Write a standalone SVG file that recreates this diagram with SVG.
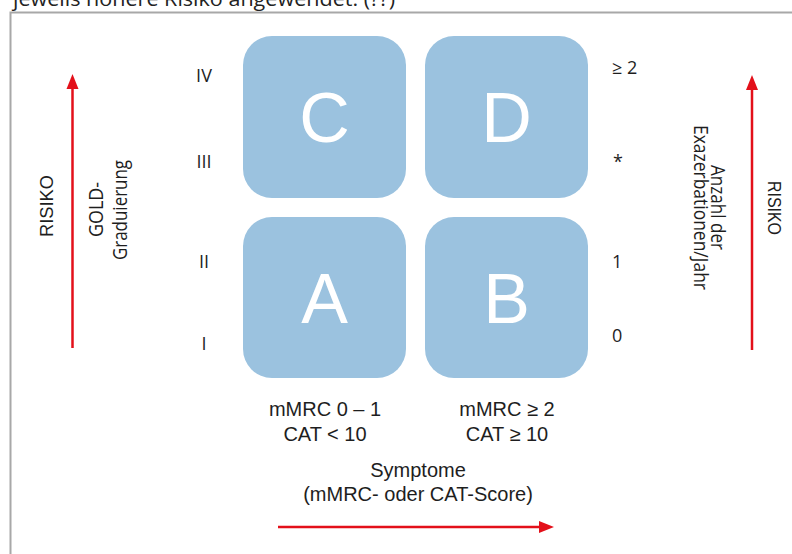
<svg xmlns="http://www.w3.org/2000/svg" width="792" height="554" viewBox="0 0 792 554">
<defs>
<style>
.box{fill:#9bc2df}
.big{font-family:"Liberation Sans",Arial,sans-serif;font-size:70px;fill:#fff;text-anchor:middle}
.lbl{font-family:"Open Sans","Liberation Sans",sans-serif;font-size:18px;fill:#1e1e1e}
.ar{font-family:"Liberation Sans",Arial,sans-serif;font-size:20px;fill:#1e1e1e;text-anchor:middle}
.rot{font-family:"Open Sans","Liberation Sans",sans-serif;font-size:20px;fill:#1e1e1e;text-anchor:middle}
.risk{font-family:"Liberation Sans",Arial,sans-serif;font-size:18px;fill:#1e1e1e;text-anchor:middle}
.red{stroke:#e3101a;stroke-width:2.5;fill:none}
.head{fill:#e3101a}
</style>
</defs>
<rect width="792" height="554" fill="#fff"/>
<text x="13" y="6" font-family="'Open Sans','Liberation Sans',sans-serif" font-size="20" fill="#222" textLength="382" lengthAdjust="spacingAndGlyphs">jeweils höhere Risiko angewendet. (??)</text>
<path d="M10.5 554 V12.5 H792" fill="none" stroke="#a8a8a8" stroke-width="2"/>

<g id="node-C"><rect class="box" x="243" y="36" width="163" height="162" rx="29"/><text class="big" x="324.5" y="142">C</text></g>
<g id="node-D"><rect class="box" x="425" y="36" width="163" height="162" rx="29"/><text class="big" x="506.5" y="142">D</text></g>
<g id="node-A"><rect class="box" x="243" y="217" width="163" height="161" rx="29"/><text class="big" x="324.5" y="323">A</text></g>
<g id="node-B"><rect class="box" x="425" y="217" width="163" height="161" rx="29"/><text class="big" x="506.5" y="323">B</text></g>

<g id="gold-labels" class="lbl" text-anchor="middle">
<text x="204" y="82">IV</text>
<text x="204" y="168">III</text>
<text x="204" y="268">II</text>
<text x="204" y="350">I</text>
</g>
<g id="exa-labels" class="lbl">
<text x="612" y="74">≥ 2</text>
<text x="613" y="168">*</text>
<text x="612" y="268">1</text>
<text x="612" y="342">0</text>
</g>

<g id="left-axis">
<text class="risk" transform="translate(53,206) rotate(-90)" textLength="62" lengthAdjust="spacingAndGlyphs">RISIKO</text>
<text class="rot" transform="translate(103,209.5) rotate(-90)" textLength="55" lengthAdjust="spacingAndGlyphs">GOLD-</text>
<text class="rot" transform="translate(127,210) rotate(-90)" textLength="100" lengthAdjust="spacingAndGlyphs">Graduierung</text>
</g>
<g id="right-axis">
<text class="rot" transform="translate(711,207.5) rotate(90)" textLength="85" lengthAdjust="spacingAndGlyphs">Anzahl der</text>
<text class="rot" transform="translate(694,207.5) rotate(90)" textLength="165" lengthAdjust="spacingAndGlyphs">Exazerbationen/Jahr</text>
<text class="risk" transform="translate(768,208) rotate(90)" textLength="54" lengthAdjust="spacingAndGlyphs">RISIKO</text>
</g>
<g id="bottom-axis">
<text class="ar" x="325" y="416">mMRC 0 – 1</text>
<text class="ar" x="325" y="441">CAT &lt; 10</text>
<text class="ar" x="507" y="416">mMRC ≥ 2</text>
<text class="ar" x="507" y="441">CAT ≥ 10</text>
<text class="ar" x="418" y="477">Symptome</text>
<text class="ar" x="418" y="501">(mMRC- oder CAT-Score)</text>
</g>

<g id="connectors">
<line class="red" x1="72.5" y1="348" x2="72.5" y2="86"/>
<polygon class="head" points="72.5,74 66.5,89 78.5,89"/>
<line class="red" x1="752" y1="350" x2="752" y2="87"/>
<polygon class="head" points="752,75 746,90 758,90"/>
<line class="red" x1="278" y1="527" x2="542" y2="527"/>
<polygon class="head" points="554,527 539,521 539,533"/>
</g>
</svg>
